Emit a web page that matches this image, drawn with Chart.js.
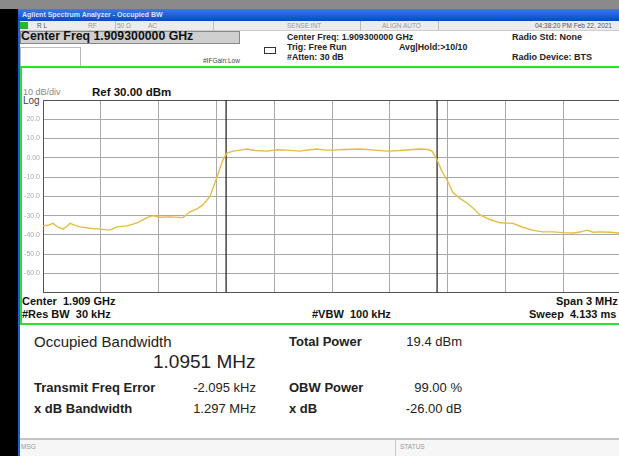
<!DOCTYPE html>
<html>
<head>
<meta charset="utf-8">
<script src="https://cdn.jsdelivr.net/npm/chart.js@4"></script>
<style>
  body { margin: 0; width: 619px; height: 456px; overflow: hidden; background: #fff; font-family: "Liberation Sans", Arial, sans-serif; }
  #app { position: relative; width: 640px; height: 456px; }
  .abs { position: absolute; white-space: nowrap; }
  .hdr { font-weight: bold; font-size: 8.8px; color: #222; }
  .tiny { font-size: 6.5px; color: #999; }
  .lbl { font-weight: bold; font-size: 13px; color: #222; }
  .val { font-size: 13px; color: #222; text-align: right; width: 90px; }
  .plotTxt { font-weight: bold; font-size: 11px; color: #111; }
</style>
</head>
<body>
<div id="app">
  <div class="abs" style="left:0;top:0;width:640px;height:9px;background:#8a8a8a"></div>
  <div class="abs" style="left:0;top:9px;width:18px;height:447px;background:#000"></div>
  <div class="abs" style="left:18px;top:9px;width:2px;height:447px;background:#1d5fd8"></div>
  <div class="abs" style="left:18px;top:9px;width:622px;height:12px;background:linear-gradient(#3a7ae8,#0b47c6)"></div>
  <div class="abs" style="left:22px;top:10px;font-size:7px;font-weight:bold;color:#d8e4ff;line-height:10px">Agilent Spectrum Analyzer - Occupied BW</div>

  <div class="abs" style="left:20px;top:21px;width:620px;height:9px;background:#ececec;border-bottom:1px solid #ccc"></div>
  <div class="abs" style="left:20px;top:22px;width:8px;height:7px;background:#2bb52b"></div>
  <div class="abs tiny" style="left:37px;top:22px;color:#555">R L</div>
  <div class="abs tiny" style="left:88px;top:22px">RF</div>
  <div class="abs tiny" style="left:117px;top:22px">50 &Omega;</div>
  <div class="abs tiny" style="left:148px;top:22px">AC</div>
  <div class="abs" style="left:115px;top:21px;width:1px;height:9px;background:#bbb"></div>
  <div class="abs" style="left:213px;top:21px;width:1px;height:9px;background:#bbb"></div>
  <div class="abs tiny" style="left:287px;top:22px">SENSE:INT</div>
  <div class="abs" style="left:360px;top:21px;width:1px;height:9px;background:#bbb"></div>
  <div class="abs tiny" style="left:382px;top:22px">ALIGN AUTO</div>
  <div class="abs" style="left:438px;top:21px;width:1px;height:9px;background:#bbb"></div>
  <div class="abs tiny" style="left:535px;top:22px;color:#555">04:38:20 PM Feb 22, 2021</div>

  <div class="abs" style="left:20px;top:31px;width:218px;height:11px;background:#cfcfcf;border:1px solid #888"></div>
  <div class="abs" style="left:21px;top:29px;font-weight:bold;font-size:12.3px;color:#111;line-height:15px">Center Freq 1.909300000 GHz</div>
  <div class="abs" style="left:20px;top:47px;width:59px;height:18px;border:1px solid #bbb;background:#fff"></div>
  <div class="abs" style="left:203px;top:57px;font-size:6.5px;color:#444">#IFGain:Low</div>
  <div class="abs" style="left:264px;top:47px;width:10px;height:5px;border:1px solid #333"></div>
  <div class="abs hdr" style="left:287px;top:32px">Center Freq: 1.909300000 GHz</div>
  <div class="abs hdr" style="left:287px;top:42px">Trig: Free Run</div>
  <div class="abs hdr" style="left:287px;top:52px">#Atten: 30 dB</div>
  <div class="abs hdr" style="left:399px;top:42px">Avg|Hold:&gt;10/10</div>
  <div class="abs hdr" style="left:512px;top:32px;font-size:9px">Radio Std: None</div>
  <div class="abs hdr" style="left:512px;top:52px;font-size:9px">Radio Device: BTS</div>

  <div class="abs" style="left:20px;top:66px;width:640px;height:255px;border:2px solid #2ee02e;box-sizing:content-box"></div>
  <div class="abs" style="left:23px;top:87px;font-size:9px;color:#888">10 dB/div</div>
  <div class="abs" style="left:23px;top:95px;font-size:10px;color:#444">Log</div>
  <div class="abs plotTxt" style="left:92px;top:86px;font-size:11.5px">Ref 30.00 dBm</div>
  <div class="abs plotTxt" style="left:22px;top:295px">Center&nbsp; 1.909 GHz</div>
  <div class="abs plotTxt" style="left:22px;top:308px">#Res BW&nbsp; 30 kHz</div>
  <div class="abs plotTxt" style="left:312px;top:308px">#VBW&nbsp; 100 kHz</div>
  <div class="abs plotTxt" style="left:556px;top:295px">Span 3 MHz</div>
  <div class="abs plotTxt" style="left:529px;top:308px">Sweep&nbsp; 4.133 ms</div>

  <div class="abs" style="left:34px;top:333px;font-size:15px;color:#222">Occupied Bandwidth</div>
  <div class="abs" style="left:153px;top:351px;font-size:19px;color:#222">1.0951 MHz</div>
  <div class="abs lbl" style="left:289px;top:334px">Total Power</div>
  <div class="abs val" style="left:372px;top:334px">19.4 dBm</div>
  <div class="abs lbl" style="left:34px;top:380px">Transmit Freq Error</div>
  <div class="abs val" style="left:166px;top:380px">-2.095 kHz</div>
  <div class="abs lbl" style="left:289px;top:380px">OBW Power</div>
  <div class="abs val" style="left:372px;top:380px">99.00 %</div>
  <div class="abs lbl" style="left:34px;top:401px">x dB Bandwidth</div>
  <div class="abs val" style="left:166px;top:401px">1.297 MHz</div>
  <div class="abs lbl" style="left:289px;top:401px">x dB</div>
  <div class="abs val" style="left:372px;top:401px">-26.00 dB</div>

  <div class="abs" style="left:20px;top:438px;width:620px;height:2px;background:#c4c4c4"></div>
  <div class="abs" style="left:20px;top:440px;width:620px;height:16px;background:#f6f6f6"></div>
  <div class="abs tiny" style="left:21px;top:443px">MSG</div>
  <div class="abs" style="left:395px;top:440px;width:1px;height:16px;background:#ccc"></div>
  <div class="abs tiny" style="left:400px;top:443px">STATUS</div>

  <canvas id="spec" class="abs" width="630" height="210" style="left:0;top:90px"></canvas>
</div>
<script>
// frequency offset from center (kHz) and trace level (dBm)
const freqOffsetsKHz = [-1500, -1474, -1448, -1422, -1396, -1375, -1360, -1334, -1308, -1256,
  -1204, -1152, -1116, -1064, -1012, -960, -929, -893, -841, -773,
  -737, -701, -670, -633, -597, -566, -545, -514, -477, -441,
  -400, -337, -285, -234, -166, -114, -78, -36, 5, 67,
  145, 223, 285, 353, 405, 457, 498, 519, 545, 571,
  597, 628, 664, 701, 732, 768, 820, 872, 939, 991,
  1043, 1095, 1147, 1199, 1251, 1287, 1323, 1355, 1391, 1443, 1490, 1500]
const traceDbm = [-35.3, -35.0, -34.0, -36.0, -37.0, -35.5, -34.0, -35.0, -35.8, -36.5,
  -37.0, -37.5, -35.8, -35.3, -33.7, -31.0, -30.0, -30.8, -30.6, -31.0,
  -28.0, -26.5, -24.4, -20.0, -9.9, -1.0, 2.5, 3.5, 4.0, 4.6,
  3.8, 3.5, 4.2, 4.0, 3.5, 4.2, 4.6, 4.0, 4.0, 4.3,
  4.6, 4.0, 3.5, 3.8, 4.2, 4.6, 4.3, 3.5, -1.0, -7.0,
  -11.5, -18.0, -21.0, -23.4, -26.0, -29.6, -32.0, -33.7, -34.0, -36.0,
  -37.6, -38.4, -38.4, -38.8, -39.0, -38.5, -37.5, -38.6, -38.4, -38.6, -39.0, -39.0]

// occupied bandwidth edges (kHz from center)
const obwEdgesKHz = [-549.6, 545.5]

const yTickValues = [30, 20, 10, 0, -10, -20, -30, -40, -50, -60, -70]
const yTickLabels = ['', '20.0', '10.0', '0.00', '-10.0', '-20.0', '-30.0', '-40.0', '-50.0', '-60.0', '']

const tracePoints = freqOffsetsKHz.map((f, i) => ({ x: f, y: traceDbm[i] }))
const markerSets = obwEdgesKHz.map(f => ({
    data: [{ x: f, y: -70 }, { x: f, y: 30 }],
    borderColor: '#2a2a2a',
    borderWidth: 1.3,
    pointRadius: 0
}))

const ctx = document.querySelector('#spec').getContext('2d')

new Chart(ctx, {
    type: 'line',
    data: {
        datasets: [
            {
                data: tracePoints,
                borderColor: '#e6bc45',
                borderWidth: 1.4,
                pointRadius: 0,
                tension: 0
            },
            ...markerSets
        ]
    },
    options: {
        responsive: false,
        animation: false,
        events: [],
        layout: { padding: { top: 10, right: 9, bottom: 7, left: 0 } },
        scales: {
            x: {
                type: 'linear',
                min: -1500,
                max: 1500,
                ticks: { display: false, stepSize: 300 },
                grid: {
                    drawTicks: false,
                    color: (c) => Math.abs(c.tick.value) === 1500 ? '#555' : '#a9a9a9',
                    lineWidth: 1
                },
                border: { color: '#555', width: 1 },
                afterFit: (scale) => { scale.height = 0 }
            },
            y: {
                min: -70,
                max: 30,
                ticks: {
                    stepSize: 10,
                    padding: 3,
                    color: '#a8a8a8',
                    font: { family: '"Liberation Sans", Arial, sans-serif', size: 7 },
                    callback: (value) => yTickLabels[yTickValues.indexOf(value)]
                },
                grid: {
                    drawTicks: false,
                    color: (c) => c.tick.value === 30 ? '#555' : '#a9a9a9',
                    lineWidth: 1
                },
                border: { color: '#555', width: 1 },
                afterFit: (scale) => { scale.width = 43 }
            }
        },
        plugins: {
            legend: { display: false },
            tooltip: { enabled: false }
        }
    }
})
</script>
</body>
</html>
